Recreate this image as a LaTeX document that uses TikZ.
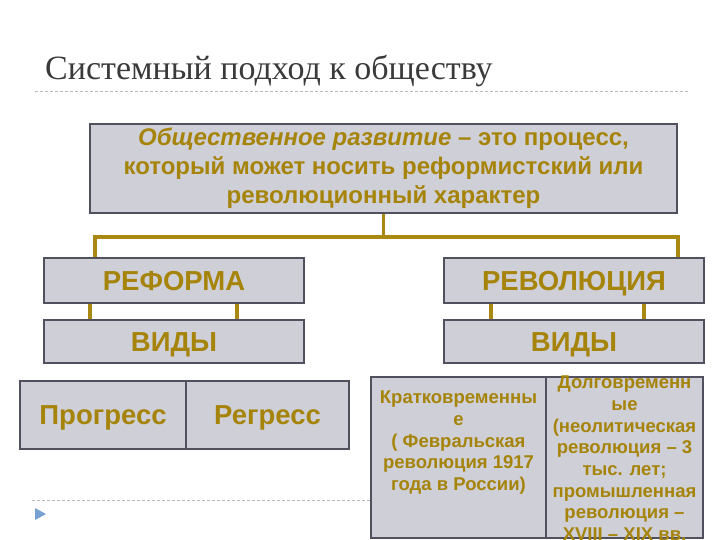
\documentclass[tikz,border=0pt]{standalone}
\usepackage{fontspec}
\setmainfont{Liberation Sans}
\newfontfamily\titlefont{Liberation Serif}
\definecolor{gold}{RGB}{166,132,10}
\definecolor{linkgold}{RGB}{170,137,18}
\definecolor{boxfill}{RGB}{206,207,215}
\definecolor{boxline}{RGB}{80,80,94}
\definecolor{titlegray}{RGB}{58,58,58}
\definecolor{tri}{RGB}{120,160,210}
\begin{document}
\begin{tikzpicture}[x=1pt,y=-1pt,
 box/.style={draw=boxline,line width=2.2pt,fill=boxfill,inner sep=0pt,text=gold,align=center},
 big/.style={font={\fontsize{27.5}{27.5}\selectfont\bfseries},text height=19.7pt,text depth=0pt},
 small/.style={font={\fontsize{18.5}{21.7}\selectfont\bfseries}},
 link/.style={draw=linkgold,line width=3.5pt}]
 \useasboundingbox (0,0) rectangle (720,540);
 \clip (0,0) rectangle (720,540);
 \node[anchor=base west,inner sep=0pt,text=titlegray,font=\titlefont\fontsize{34}{34}\selectfont] (title) at (45,80) {Системный подход к обществу};
 \draw[gray!55,dash pattern=on 3pt off 2pt] (35,91)--(690,91);
 \draw[gray!55,dash pattern=on 3pt off 2pt] (32,500)--(372,500);
 \fill[tri] (35,508)--(46,514)--(35,520)--cycle;
 \node[box,minimum width=587,minimum height=89,font={\fontsize{24}{29}\selectfont\bfseries}] (razvitie) at (383.5,168.5)
  {\textit{Общественное развитие} – это процесс,\\который может носить реформистский или\\революционный характер};
 \node[box,big,minimum width=260,minimum height=45] (reforma) at (174,280.5) {РЕФОРМА};
 \node[box,big,minimum width=260,minimum height=45] (revolyuciya) at (574,280.5) {РЕВОЛЮЦИЯ};
 \node[box,big,minimum width=260,minimum height=43] (vidyL) at (174,341.5) {ВИДЫ};
 \node[box,big,minimum width=260,minimum height=43] (vidyR) at (574,341.5) {ВИДЫ};
 \node[box,big,minimum width=166,minimum height=68] (progress) at (103,415) {Прогресс};
 \node[box,big,minimum width=163,minimum height=68] (regress) at (267.5,415) {Регресс};
 \node[box,small] (kratko) at (458.5,457.5)
  {\parbox[c][161pt][t]{175pt}{\centering\vspace*{14pt}Кратковременны\\е\\( Февральская\\революция 1917\\года в России)}};
 \node[box,small] (dolgo) at (624.5,457.5)
  {\parbox[c][161pt][t]{157pt}{\centering\vspace*{-1pt}Долговременн\\ые\\(неолитическая\\революция – 3\\тыс. лет;\\промышленная\\революция –\\XVIII – XIX вв.}};
 \draw[link] (razvitie.south)--++(0,23) coordinate (fork);
 \draw[link] (fork) -| ([xshift=52pt]reforma.north west);
 \draw[link] (fork) -| ([xshift=-27pt]revolyuciya.north east);
 \foreach \dx in {47,194} \draw[link] ([xshift=\dx pt]reforma.south west)--([xshift=\dx pt]vidyL.north west);
 \foreach \dx in {48,201} \draw[link] ([xshift=\dx pt]revolyuciya.south west)--([xshift=\dx pt]vidyR.north west);
\end{tikzpicture}
\end{document}
